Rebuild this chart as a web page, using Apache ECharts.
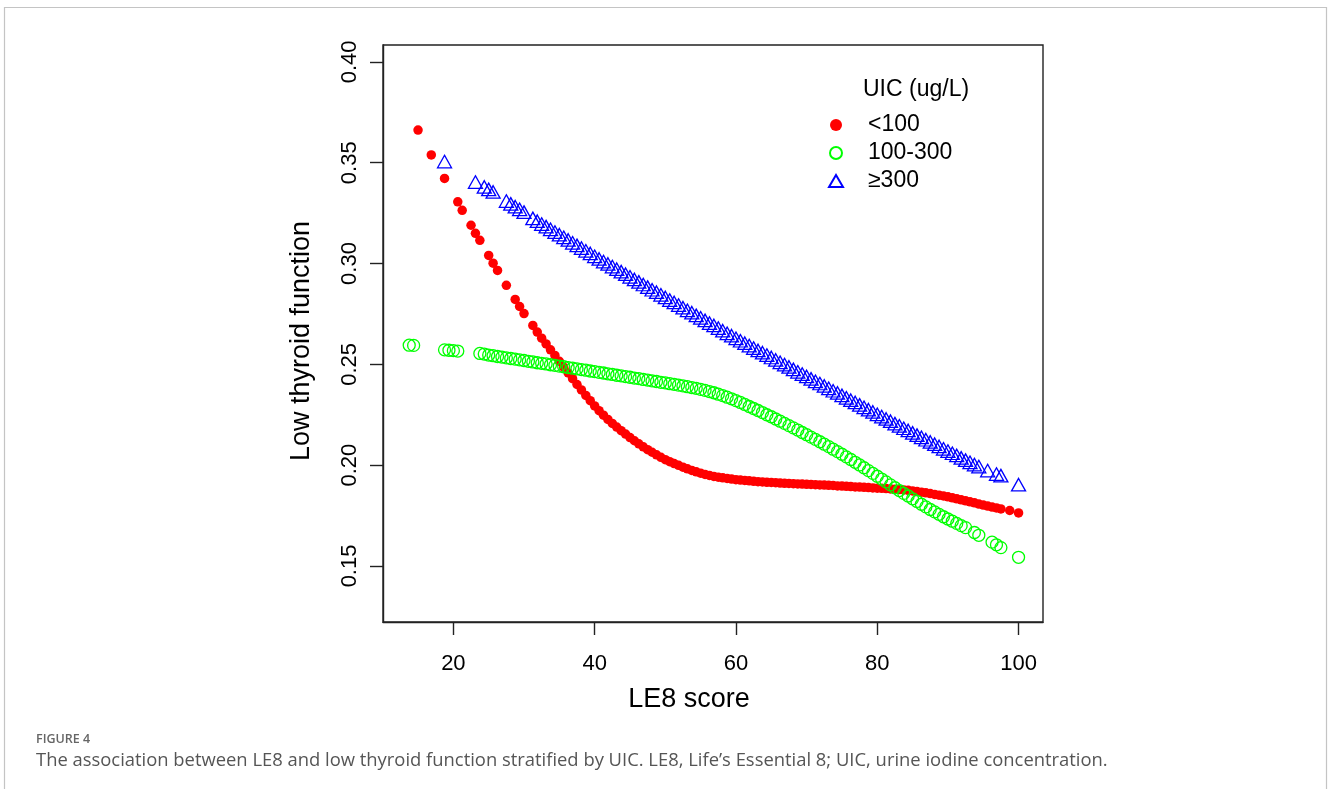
<!DOCTYPE html>
<html>
<head>
<meta charset="utf-8">
<title>LE8 and low thyroid function by UIC</title>
<script src="https://cdn.jsdelivr.net/npm/echarts@6/dist/echarts.min.js"></script>
<style>
  html, body { margin: 0; padding: 0; background: #fff; }
  #main { width: 1328px; height: 789px; }
</style>
</head>
<body>
<div id="main"></div>
<script>
// LE8 score grid (steps of 0.625), rows of 8
var scores = [
  13.75, 14.375, 15, 15.625, 16.25, 16.875, 17.5, 18.125,
  18.75, 19.375, 20, 20.625, 21.25, 21.875, 22.5, 23.125,
  23.75, 24.375, 25, 25.625, 26.25, 26.875, 27.5, 28.125,
  28.75, 29.375, 30, 30.625, 31.25, 31.875, 32.5, 33.125,
  33.75, 34.375, 35, 35.625, 36.25, 36.875, 37.5, 38.125,
  38.75, 39.375, 40, 40.625, 41.25, 41.875, 42.5, 43.125,
  43.75, 44.375, 45, 45.625, 46.25, 46.875, 47.5, 48.125,
  48.75, 49.375, 50, 50.625, 51.25, 51.875, 52.5, 53.125,
  53.75, 54.375, 55, 55.625, 56.25, 56.875, 57.5, 58.125,
  58.75, 59.375, 60, 60.625, 61.25, 61.875, 62.5, 63.125,
  63.75, 64.375, 65, 65.625, 66.25, 66.875, 67.5, 68.125,
  68.75, 69.375, 70, 70.625, 71.25, 71.875, 72.5, 73.125,
  73.75, 74.375, 75, 75.625, 76.25, 76.875, 77.5, 78.125,
  78.75, 79.375, 80, 80.625, 81.25, 81.875, 82.5, 83.125,
  83.75, 84.375, 85, 85.625, 86.25, 86.875, 87.5, 88.125,
  88.75, 89.375, 90, 90.625, 91.25, 91.875, 92.5, 93.125,
  93.75, 94.375, 95, 95.625, 96.25, 96.875, 97.5, 98.125,
  98.75, 99.375, 100
];

// UIC < 100
var uicLow = [
  null, null, 0.3662, null, null, 0.3539, null, null,
  0.3422, null, null, 0.3306, 0.3264, null, 0.3190, 0.3150,
  0.3115, null, 0.3040, 0.3002, 0.2966, null, 0.2892, null,
  0.2822, 0.2787, 0.2752, null, 0.2693, 0.2660, 0.2630, 0.2601,
  0.2572, 0.2544, 0.2515, 0.2486, 0.2457, 0.2429, 0.2400, 0.2373,
  0.2346, 0.2320, 0.2294, 0.2270, 0.2248, 0.2227, 0.2207, 0.2189,
  0.2171, 0.2154, 0.2137, 0.2121, 0.2106, 0.2091, 0.2077, 0.2064,
  0.2051, 0.2039, 0.2027, 0.2017, 0.2008, 0.1999, 0.1990, 0.1982,
  0.1974, 0.1967, 0.1960, 0.1954, 0.1949, 0.1944, 0.1940, 0.1937,
  0.1934, 0.1931, 0.1928, 0.1926, 0.1924, 0.1922, 0.1920, 0.1918,
  0.1917, 0.1915, 0.1914, 0.1913, 0.1911, 0.1910, 0.1909, 0.1908,
  0.1907, 0.1906, 0.1905, 0.1904, 0.1903, 0.1902, 0.1901, 0.1900,
  0.1899, 0.1897, 0.1896, 0.1895, 0.1894, 0.1892, 0.1891, 0.1890,
  0.1889, 0.1887, 0.1886, 0.1885, 0.1884, 0.1882, 0.1881, 0.1879,
  0.1877, 0.1875, 0.1872, 0.1869, 0.1866, 0.1863, 0.1859, 0.1855,
  0.1851, 0.1847, 0.1843, 0.1838, 0.1833, 0.1828, 0.1823, 0.1818,
  0.1813, 0.1807, 0.1802, 0.1797, 0.1792, 0.1788, 0.1783, null,
  0.1775, null, 0.1763
];

// UIC 100-300
var uicMid = [
  0.2595, 0.2594, null, null, null, null, null, null,
  0.2572, 0.2570, 0.2568, 0.2566, null, null, null, null,
  0.2554, 0.2551, 0.2546, 0.2543, 0.2539, 0.2536, 0.2532, 0.2529,
  0.2526, 0.2522, 0.2519, 0.2515, 0.2512, 0.2508, 0.2505, 0.2502,
  0.2498, 0.2495, 0.2491, 0.2488, 0.2484, 0.2481, 0.2478, 0.2474,
  0.2471, 0.2467, 0.2464, 0.2460, 0.2457, 0.2453, 0.2450, 0.2446,
  0.2443, 0.2439, 0.2436, 0.2432, 0.2429, 0.2425, 0.2422, 0.2418,
  0.2415, 0.2411, 0.2408, 0.2404, 0.2401, 0.2397, 0.2393, 0.2389,
  0.2385, 0.2381, 0.2376, 0.2371, 0.2365, 0.2359, 0.2352, 0.2345,
  0.2337, 0.2329, 0.2320, 0.2311, 0.2301, 0.2291, 0.2281, 0.2271,
  0.2261, 0.2250, 0.2240, 0.2229, 0.2218, 0.2207, 0.2196, 0.2185,
  0.2174, 0.2162, 0.2151, 0.2139, 0.2128, 0.2116, 0.2104, 0.2092,
  0.2079, 0.2067, 0.2054, 0.2041, 0.2028, 0.2014, 0.2001, 0.1987,
  0.1973, 0.1959, 0.1945, 0.1931, 0.1917, 0.1902, 0.1888, 0.1874,
  0.1860, 0.1847, 0.1833, 0.1820, 0.1806, 0.1793, 0.1780, 0.1768,
  0.1756, 0.1744, 0.1733, 0.1722, 0.1711, 0.1700, 0.1690, null,
  0.1666, 0.1652, null, null, 0.1618, 0.1605, 0.1591, null,
  null, null, 0.1543
];

// UIC >= 300
var uicHigh = [
  null, null, null, null, null, null, null, null,
  0.3506, null, null, null, null, null, null, 0.3404,
  null, 0.3380, 0.3368, 0.3355, null, null, 0.3310, 0.3296,
  0.3282, 0.3269, 0.3255, null, 0.3224, 0.3210, 0.3196, 0.3183,
  0.3170, 0.3156, 0.3143, 0.3130, 0.3117, 0.3103, 0.3090, 0.3077,
  0.3063, 0.3050, 0.3036, 0.3023, 0.3010, 0.2998, 0.2985, 0.2972,
  0.2960, 0.2947, 0.2934, 0.2921, 0.2909, 0.2896, 0.2883, 0.2870,
  0.2858, 0.2845, 0.2832, 0.2819, 0.2807, 0.2794, 0.2781, 0.2768,
  0.2756, 0.2743, 0.2731, 0.2718, 0.2705, 0.2693, 0.2680, 0.2667,
  0.2654, 0.2642, 0.2629, 0.2617, 0.2605, 0.2593, 0.2581, 0.2569,
  0.2558, 0.2546, 0.2534, 0.2522, 0.2510, 0.2499, 0.2487, 0.2475,
  0.2463, 0.2452, 0.2440, 0.2428, 0.2416, 0.2405, 0.2393, 0.2381,
  0.2369, 0.2358, 0.2346, 0.2334, 0.2322, 0.2311, 0.2299, 0.2287,
  0.2275, 0.2264, 0.2252, 0.2241, 0.2229, 0.2218, 0.2206, 0.2195,
  0.2183, 0.2172, 0.2160, 0.2149, 0.2138, 0.2126, 0.2115, 0.2104,
  0.2093, 0.2081, 0.2070, 0.2059, 0.2048, 0.2036, 0.2025, 0.2014,
  0.2003, 0.1993, null, 0.1973, null, 0.1956, 0.1948, null,
  null, null, 0.1903
];

var seriesNames = ['<100', '100-300', '≥300'];
var xTicks = [20, 40, 60, 80, 100];
var yTicks = [0.15, 0.20, 0.25, 0.30, 0.35, 0.40];

function pairs(ys) {
  var out = [];
  for (var i = 0; i < scores.length; i++) {
    if (ys[i] != null) out.push([scores[i], ys[i]]);
  }
  return out;
}

var myChart = echarts.init(document.getElementById('main'));
var font = '"Liberation Sans", Arial, Helvetica, sans-serif';

var option = {
  backgroundColor: '#fff',
  animation: false,
  textStyle: { fontFamily: font },
  title: [
    {
      text: 'UIC (ug/L)',
      left: 858, top: 73,
      textStyle: { fontFamily: font, fontSize: 23, fontWeight: 'normal', color: '#000' }
    },
    {
      text: 'FIGURE 4',
      left: 31, top: 728,
      textStyle: { fontFamily: '"Open Sans", sans-serif', fontSize: 12.5, fontWeight: 600, color: '#666' }
    },
    {
      text: 'The association between LE8 and low thyroid function stratified by UIC. LE8, Life’s Essential 8; UIC, urine iodine concentration.',
      left: 31, top: 747,
      textStyle: { fontFamily: '"Open Sans", sans-serif', fontSize: 18.4, fontWeight: 'normal', color: '#555' }
    }
  ],
  graphic: [{
    type: 'rect',
    shape: { x: 4.5, y: 7.5, width: 1322, height: 800 },
    style: { fill: 'none', stroke: '#c4c4c4', lineWidth: 1.2 },
    silent: true
  }],
  legend: {
    orient: 'vertical',
    left: 823, top: 106,
    itemWidth: 14, itemHeight: 12,
    itemGap: 0,
    textStyle: { fontFamily: font, fontSize: 23, lineHeight: 28, color: '#000', padding: [0, 0, 0, 20] },
    data: seriesNames
  },
  grid: {
    left: 383, top: 45, width: 660, height: 577,
    show: true, borderColor: '#222', borderWidth: 1.4
  },
  xAxis: {
    type: 'value',
    min: 10.04, max: 103.46,
    name: 'LE8 score',
    nameLocation: 'middle',
    nameGap: 64,
    nameTextStyle: { fontFamily: font, fontSize: 27, color: '#000', padding: [0, 48, 0, 0] },
    axisLine: { show: true, lineStyle: { color: '#222', width: 1.4 } },
    axisTick: { show: true, length: 13, customValues: xTicks, lineStyle: { color: '#222', width: 1.4 } },
    axisLabel: { customValues: xTicks, margin: 31, fontSize: 22, color: '#000', fontFamily: font },
    splitLine: { show: false }
  },
  yAxis: {
    type: 'value',
    min: 0.1222, max: 0.4084,
    name: 'Low thyroid function',
    nameLocation: 'middle',
    nameGap: 68,
    nameTextStyle: { fontFamily: font, fontSize: 27, color: '#000', padding: [0, 15, 0, 0] },
    axisLine: { show: true, lineStyle: { color: '#222', width: 1.4 } },
    axisTick: { show: true, length: 13, customValues: yTicks, lineStyle: { color: '#222', width: 1.4 } },
    axisLabel: {
      customValues: yTicks, margin: 22, rotate: 90, fontSize: 22, color: '#000', fontFamily: font,
      align: 'center', verticalAlign: 'bottom',
      formatter: function (v) { return v.toFixed(2); }
    },
    splitLine: { show: false }
  },
  series: [
    {
      name: seriesNames[0],
      type: 'scatter',
      symbol: 'circle',
      symbolSize: 9.5,
      itemStyle: { color: '#ff0000', opacity: 1 },
      data: pairs(uicLow)
    },
    {
      name: seriesNames[1],
      type: 'scatter',
      symbol: 'circle',
      symbolSize: 12,
      itemStyle: { color: 'rgba(0,0,0,0)', borderColor: '#00ff00', borderWidth: 1.3, opacity: 1 },
      data: pairs(uicMid)
    },
    {
      name: seriesNames[2],
      type: 'scatter',
      symbol: 'triangle',
      symbolSize: [14, 12.5],
      itemStyle: { color: 'rgba(0,0,0,0)', borderColor: '#0000ff', borderWidth: 1.3, opacity: 1 },
      data: pairs(uicHigh)
    }
  ]
};

myChart.setOption(option);
</script>
</body>
</html>
